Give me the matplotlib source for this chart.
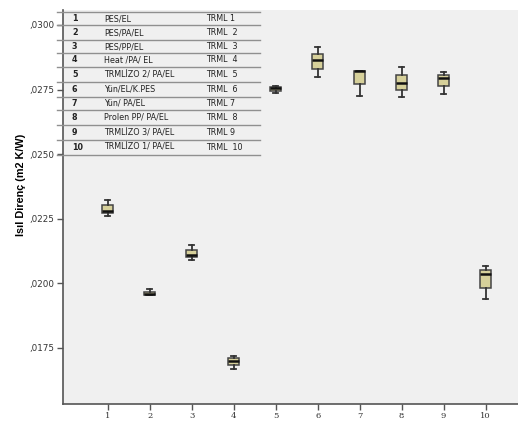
import numpy as np
import matplotlib
matplotlib.use('Agg')
import matplotlib.pyplot as plt

# box statistics (whisker low, q1, median, q3, whisker high)
groups = [1, 2, 3, 4, 5, 6, 7, 8, 9, 10]
whislo = [0.02262, 0.01955, 0.02091, 0.01669, 0.02736, 0.02798, 0.02725, 0.02723, 0.02733, 0.01939]
q1 = [0.02271, 0.01955, 0.02101, 0.01684, 0.02745, 0.02830, 0.02772, 0.02749, 0.02765, 0.01981]
med = [0.02280, 0.01960, 0.02110, 0.01700, 0.02755, 0.02865, 0.02823, 0.02774, 0.02796, 0.02035]
q3 = [0.02303, 0.01967, 0.02129, 0.01710, 0.02761, 0.02888, 0.02823, 0.02808, 0.02808, 0.02052]
whishi = [0.02323, 0.01978, 0.02149, 0.01719, 0.02763, 0.02914, 0.02823, 0.02839, 0.02817, 0.02067]

tab_no = ['1', '2', '3', '4', '5', '6', '7', '8', '9', '10']
tab_name = ['PES/EL', 'PES/PA/EL', 'PES/PP/EL', 'Heat /PA/ EL', 'TRMLİZO 2/ PA/EL',
            'Yün/EL/K.PES', 'Yün/ PA/EL', 'Prolen PP/ PA/EL', 'TRMLİZO 3/ PA/EL',
            'TRMLİZO 1/ PA/EL']
tab_code = ['TRML 1', 'TRML  2', 'TRML  3', 'TRML  4', 'TRML  5', 'TRML  6',
            'TRML 7', 'TRML  8', 'TRML 9', 'TRML  10']

yticks = [0.0175, 0.0200, 0.0225, 0.0250, 0.0275, 0.0300]
ytick_labels = [',0175', ',0200', ',0225', ',0250', ',0275', ',0300']

stats = []
for i in range(len(groups)):
    stats.append(dict(whislo=whislo[i], q1=q1[i], med=med[i], q3=q3[i],
                      whishi=whishi[i], fliers=[]))

fig = plt.figure(figsize=(5.18, 4.25), dpi=100)
fig.patch.set_facecolor('white')
ax = fig.add_axes([63/518, 21/425, 455/518, 394/425])
ax.set_facecolor('#f0f0f0')

ax.bxp(stats, positions=groups, widths=0.27, patch_artist=True, showfliers=False,
       boxprops=dict(facecolor='#d6d09a', edgecolor='#444444', linewidth=1.1),
       medianprops=dict(color='#111111', linewidth=1.8),
       whiskerprops=dict(color='#333333', linewidth=1.3),
       capprops=dict(color='#333333', linewidth=1.3),
       capwidths=0.12)

ax.set_xlim(-0.064, 10.77)
ax.set_ylim(0.01533, 0.03058)
ax.set_xticks(groups)
ax.set_xticklabels(tab_no, fontsize=6, color='#333333', family='DejaVu Serif')
ax.set_yticks(yticks)
ax.set_yticklabels(ytick_labels, fontsize=6.3, color='#333333')
ax.tick_params(axis='both', direction='out', length=4, width=1, color='#555555', pad=2)

for s in ['top', 'right']:
    ax.spines[s].set_visible(False)
for s in ['left', 'bottom']:
    ax.spines[s].set_color('#555555')
    ax.spines[s].set_linewidth(1.2)

fig.text(21/518, 1 - 185/425, 'Isıl Direnç (m2 K/W)', rotation=90, ha='center',
         va='center', fontsize=7.8, fontweight='bold', family='Liberation Sans')

# legend table in the upper left corner
lines_y = [12, 25, 40, 53, 67, 82, 97, 110, 125, 140, 155]
for yl in lines_y:
    fig.add_artist(plt.Line2D([57/518, 260/518], [1 - yl/425, 1 - yl/425],
                              color='#909090', linewidth=1.0))
for i in range(len(tab_no)):
    yc = 1 - (lines_y[i] + lines_y[i + 1]) / 2 / 425
    fig.text(72/518, yc, tab_no[i], fontsize=5.8, fontweight='bold', va='center', color='#222222')
    fig.text(104/518, yc, tab_name[i], fontsize=5.8, va='center', color='#222222')
    fig.text(206/518, yc, tab_code[i], fontsize=5.8, va='center', color='#222222')

fig.savefig('out.png', dpi=100)
